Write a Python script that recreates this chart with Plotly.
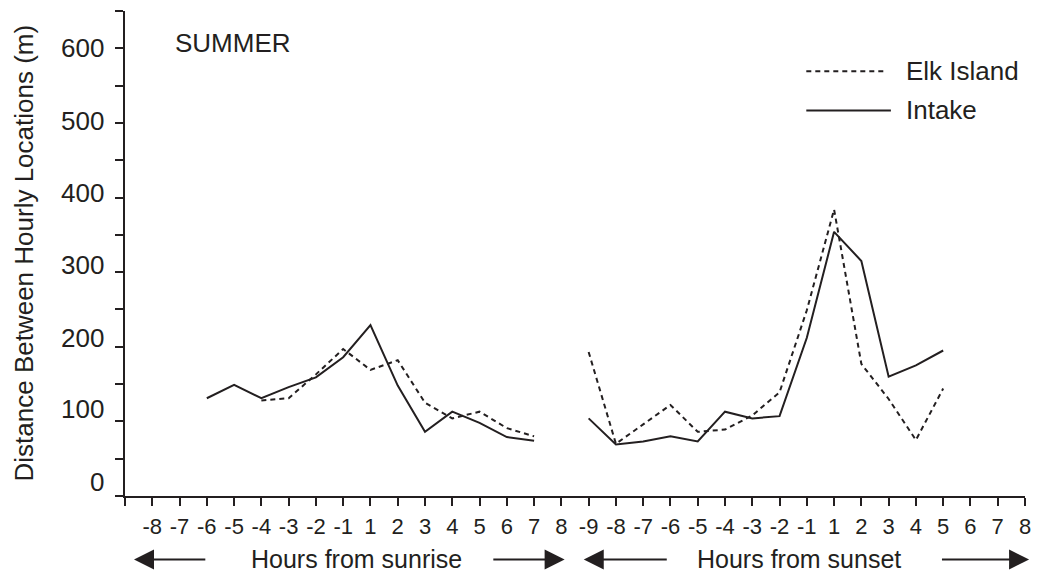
import plotly.graph_objects as go

# ---- data ----
sunrise_hours = ["-8", "-7", "-6", "-5", "-4", "-3", "-2", "-1", "1", "2", "3", "4", "5", "6", "7", "8"]
sunset_hours = ["-9", "-8", "-7", "-6", "-5", "-4", "-3", "-2", "-1", "1", "2", "3", "4", "5", "6", "7", "8"]

intake_sunrise = [None, None, 131, 149, 131, 146, 159, 186, 229, 148, 86, 113, 98, 79, 74, None]
elk_sunrise = [None, None, None, None, 128, 131, 163, 197, 169, 182, 125, 104, 113, 91, 80, None]

intake_sunset = [104, 69, 73, 80, 73, 113, 104, 107, 212, 354, 315, 160, 175, 195, None, None, None]
elk_sunset = [193, 70, 96, 122, 86, 89, 108, 139, 249, 384, 177, 130, 75, 144, None, None, None]

y_ticks = list(range(0, 651, 50))
y_label_values = [0, 100, 200, 300, 400, 500, 600]

# ---- positions (category index along axis; index 0 is the unlabeled origin tick) ----
x_sunrise = list(range(1, 1 + len(sunrise_hours)))
x_sunset = list(range(1 + len(sunrise_hours), 1 + len(sunrise_hours) + len(sunset_hours)))
x_all = [0] + x_sunrise + x_sunset
x_text = [""] + sunrise_hours + sunset_hours

INK = "#231f20"
FONT = "Liberation Sans, Arial, sans-serif"
DASH = "5px,4px"

fig = go.Figure()
for xs, ys in ((x_sunrise, elk_sunrise), (x_sunset, elk_sunset)):
    fig.add_trace(go.Scatter(x=xs, y=ys, mode="lines", name="Elk Island",
                             line=dict(color=INK, width=2, dash=DASH),
                             connectgaps=False, showlegend=False, hoverinfo="skip"))
for xs, ys in ((x_sunrise, intake_sunrise), (x_sunset, intake_sunset)):
    fig.add_trace(go.Scatter(x=xs, y=ys, mode="lines", name="Intake",
                             line=dict(color=INK, width=2),
                             connectgaps=False, showlegend=False, hoverinfo="skip"))

fig.update_layout(
    width=1041, height=576,
    margin=dict(l=125, r=10, t=11, b=80),
    paper_bgcolor="white", plot_bgcolor="white",
    font=dict(family=FONT, color=INK, size=22),
    showlegend=False,
    xaxis=dict(range=[0, x_all[-1]], tickvals=x_all, ticktext=x_text,
               showgrid=False, zeroline=False, showline=True, linecolor=INK, linewidth=2,
               ticks="outside", ticklen=8, tickwidth=2, tickcolor=INK,
               tickfont=dict(size=22), tickangle=0, ticklabelstandoff=2),
    yaxis=dict(range=[0, 650], tickvals=y_ticks, ticktext=[""] * len(y_ticks),
               showgrid=False, zeroline=False, showline=True, linecolor=INK, linewidth=2,
               ticks="outside", ticklen=8, tickwidth=2, tickcolor=INK),
)

# y tick labels (the original's labels drift slightly upward toward the bottom)
for v in y_label_values:
    fig.add_annotation(x=0, y=v, xref="paper", yref="y", text=str(v), showarrow=False,
                       xanchor="right", yanchor="middle", xshift=-19,
                       yshift=round((600 - v) * 14 / 600), font=dict(size=26))

# y-axis title
fig.add_annotation(x=0, y=0.5, xref="paper", yref="paper",
                   text="Distance Between Hourly Locations (m)", textangle=-90,
                   showarrow=False, xanchor="center", yanchor="middle", xshift=-102,
                   font=dict(size=26))

# x-axis group captions with arrows
cap_y = -0.131
groups = [
    ("Hours from sunrise", (x_sunrise[0] + x_sunrise[-1]) / 2, 0.33, 3.0, 13.45, 16.12),
    ("Hours from sunset", (x_sunset[0] + x_sunset[-1]) / 2 - 0.3, 16.82, 19.92, 29.9, 33.15),
]
for text, xc, ltip, ltail, rtail, rtip in groups:
    fig.add_annotation(x=xc, y=cap_y, xref="x", yref="paper", text=text, showarrow=False,
                       font=dict(size=25), xanchor="center", yanchor="middle", yshift=1)
    for tip, tail in ((ltip, ltail), (rtip, rtail)):
        fig.add_annotation(x=tip, y=cap_y, xref="x", yref="paper", text="",
                           showarrow=True, axref="x", ax=tail, ayref="pixel", ay=0,
                           arrowhead=2, arrowsize=2.0, arrowwidth=2, arrowcolor=INK,
                           standoff=0, startstandoff=0)

# season label
fig.add_annotation(x=0.053, y=0.935, xref="paper", yref="paper", text="SUMMER", showarrow=False,
                   font=dict(size=26), xanchor="left", yanchor="middle")

# legend (drawn manually to match long line samples)
legend_items = [("Elk Island", DASH, 0.876, 0.844), ("Intake", "solid", 0.795, 0.851)]
for label, dash, ly, x1 in legend_items:
    fig.add_shape(type="line", xref="paper", yref="paper", x0=0.757, x1=x1, y0=ly, y1=ly,
                  line=dict(color=INK, width=2, dash=dash))
    fig.add_annotation(x=0.866, y=ly, xref="paper", yref="paper", text=label, showarrow=False,
                       font=dict(size=26), xanchor="left", yanchor="middle")

fig.write_html("out.html")
